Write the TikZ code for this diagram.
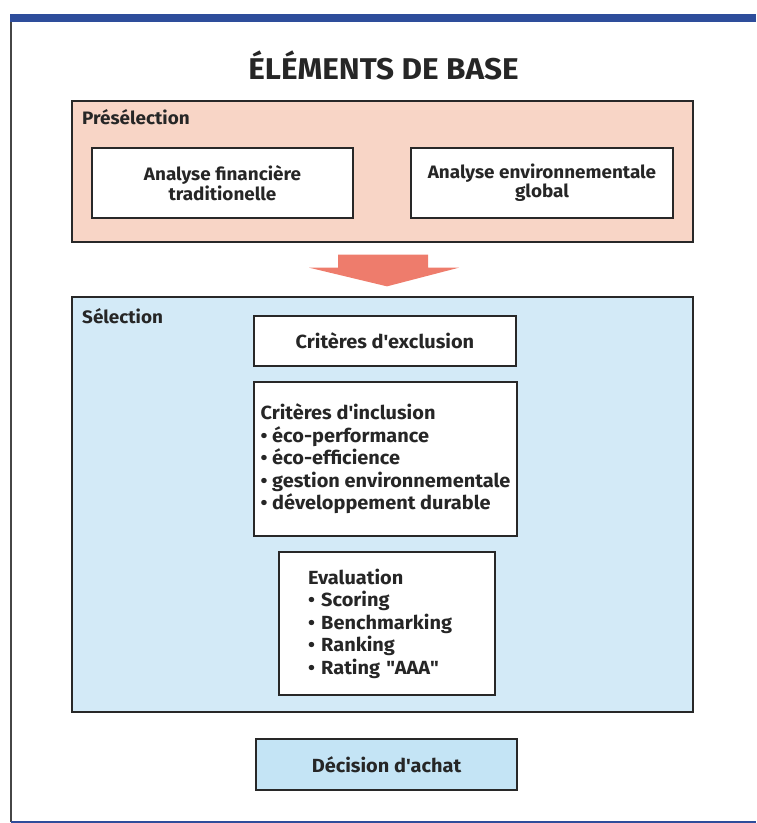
\documentclass[tikz,border=0pt]{standalone}
\usepackage{fontspec}
\setmainfont{Fira Sans}[FakeStretch=1.05]
\usetikzlibrary{calc}
\definecolor{barblue}{RGB}{46,77,155}
\definecolor{framegray}{RGB}{70,70,70}
\definecolor{boxline}{RGB}{40,40,40}
\definecolor{salmon}{RGB}{248,213,198}
\definecolor{arrowred}{RGB}{238,124,108}
\definecolor{skyblue}{RGB}{211,234,247}
\definecolor{skyblue2}{RGB}{196,228,245}
\newcommand{\apos}{\textquotesingle}

\begin{document}
\begin{tikzpicture}
[
x=1pt,y=-1pt,
every node/.style={text=black!85},
big/.style={font=\bfseries\fontsize{19}{22.5}\selectfont},
small/.style={font=\bfseries\fontsize{18}{17.5}\selectfont},
group/.style 2 args={draw=boxline,line width=1.3pt,fill=#1,minimum width=621pt,minimum height=#2,inner sep=0pt},
item/.style 2 args={draw=boxline,line width=1.8pt,fill=white,minimum width=#1,minimum height=#2,inner sep=0pt,align=center},
grouplabel/.style={small,anchor=base west,inner sep=0pt},
]
\useasboundingbox (0,0) rectangle (756,823);

%Frame
\fill[barblue] (10,14) rectangle (756,22);
\draw[framegray,line width=1.2pt] (11,22) -- (11,822);
\draw[barblue,line width=1.2pt] (11,822) -- (756,822);

%Place the nodes
\node[font=\bfseries\fontsize{30}{36}\selectfont,anchor=base] (title) at (383.5,79) {ÉLÉMENTS DE BASE};
\node[group={salmon}{141pt}] (pre) at (382.5,171.5) {};
\node[grouplabel] (prelabel) at (82,124) {Présélection};
\node[item={261pt}{70pt},small] (fin) at (222.5,183) {Analyse financière\\traditionelle};
\node[item={262pt}{70pt},small] (env) at (542,183) {Analyse environnementale\\global};

\node[group={skyblue}{415pt}] (sel) at (382.5,504.5) {};
\node[grouplabel] (sellabel) at (82,323) {Sélection};
\node[item={262pt}{50pt},big] (excl) at (385,341) {Critères d\apos exclusion};
\node[item={263pt}{154pt},big,align=left] (incl) at (385.5,459) {Critères d\apos inclusion\\
  \textbullet\ éco-performance\\
  \textbullet\ éco-efficience\\
  \textbullet\ gestion environnementale\\
  \textbullet\ développement durable};
\node[item={216pt}{143pt},big,align=left,text width=158pt,inner xsep=29pt] (eval) at (387,623.5) {Evaluation\\
  \textbullet\ Scoring\\
  \textbullet\ Benchmarking\\
  \textbullet\ Ranking\\
  \textbullet\ Rating \textquotedbl AAA\textquotedbl};
\node[item={261pt}{51pt},big,fill=skyblue2] (achat) at (386.5,764.5) {Décision d\apos achat};

%Draw the connections
\fill[arrowred] ($(pre.south)+(-44.5,12)$) -- ++(90,0) -- ++(0,13) -- ++(31,0)
  -- ($(sel.north)+(4.5,-10)$) -- ($(pre.south)+(-73.5,25)$) -- ++(29,0) -- cycle;
\end{tikzpicture}
\end{document}
